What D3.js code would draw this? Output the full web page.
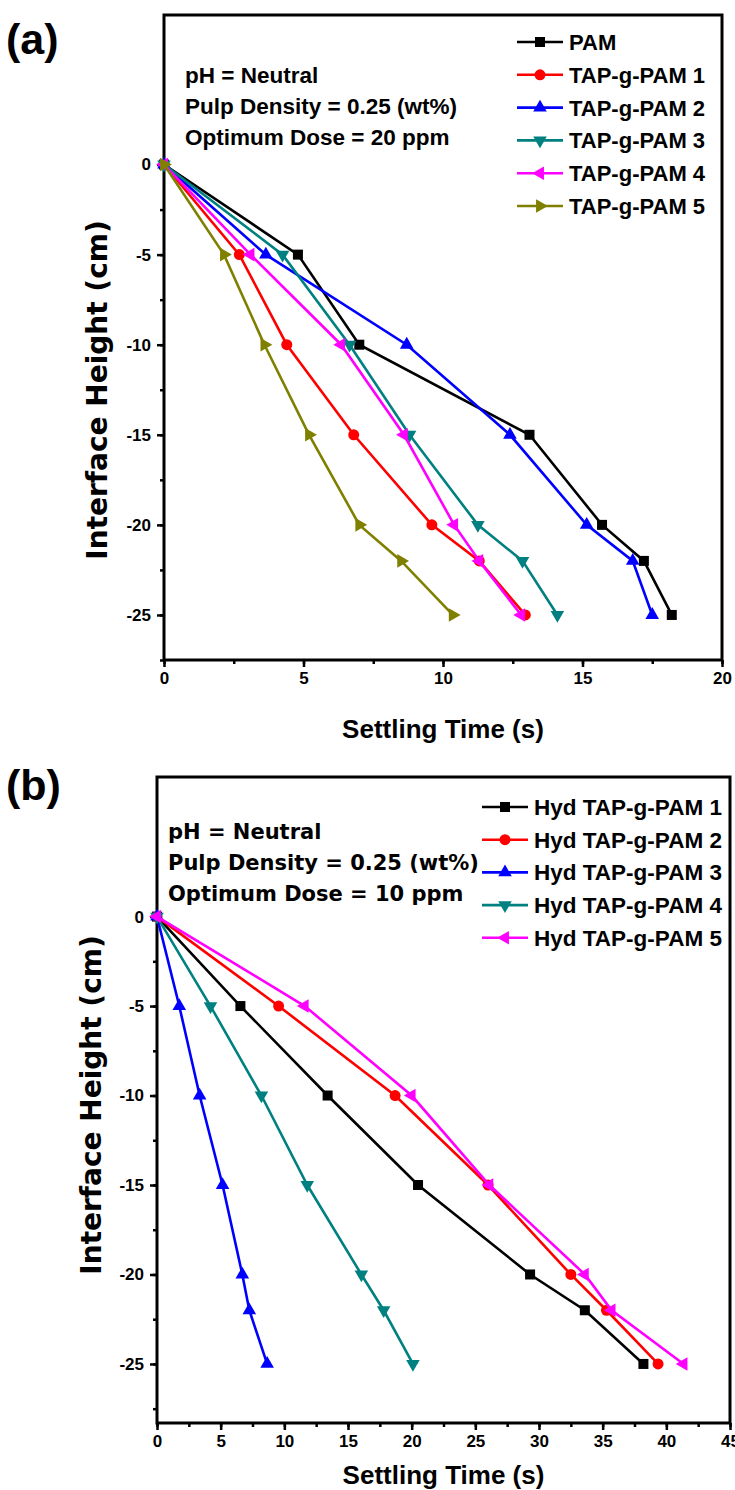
<!DOCTYPE html>
<html>
<head>
<meta charset="utf-8">
<script src="https://cdn.jsdelivr.net/npm/d3@7"></script>
<style>
  body { margin: 0; background: #fff; }
  svg text { font-family: "Liberation Sans", Arial, sans-serif; font-weight: bold; }
</style>
</head>
<body>
<svg id="chart" width="735" height="1490"></svg>
<script>
// panel (a) data
const aDepth = [0, -5, -10, -15, -20, -22, -25];
const aNames = ["PAM", "TAP-g-PAM 1", "TAP-g-PAM 2", "TAP-g-PAM 3", "TAP-g-PAM 4", "TAP-g-PAM 5"];
const aPAM  = [0, 4.8, 7.0, 13.1, 15.7, 17.2, 18.2];
const aTAP1 = [0, 2.7, 4.4, 6.8, 9.6, 11.3, 12.95];
const aTAP2 = [0, 3.65, 8.7, 12.4, 15.15, 16.8, 17.5];
const aTAP3 = [0, 4.25, 6.65, 8.8, 11.25, 12.85, 14.1];
const aTAP4 = [0, 3.1, 6.35, 8.6, 10.4, 11.3, 12.8];
const aTAP5 = [0, 2.15, 3.6, 5.2, 7.0, 8.5, 10.35];
const aNotes = ["pH = Neutral", "Pulp Density = 0.25 (wt%)", "Optimum Dose = 20 ppm"];

// panel (b) data
const bDepth = [0, -5, -10, -15, -20, -22, -25];
const bNames = ["Hyd TAP-g-PAM 1", "Hyd TAP-g-PAM 2", "Hyd TAP-g-PAM 3", "Hyd TAP-g-PAM 4", "Hyd TAP-g-PAM 5"];
const bHyd1 = [0, 6.55, 13.4, 20.5, 29.3, 33.6, 38.2];
const bHyd2 = [0, 9.55, 18.7, 26.0, 32.5, 35.3, 39.35];
const bHyd3 = [0, 1.75, 3.35, 5.15, 6.7, 7.25, 8.65];
const bHyd4 = [0, 4.2, 8.2, 11.8, 16.05, 17.8, 20.1];
const bHyd5 = [0, 11.6, 20.0, 26.1, 33.6, 35.7, 41.35];
const bNotes = ["pH = Neutral", "Pulp Density = 0.25 (wt%)", "Optimum Dose = 10 ppm"];

const yMajor = [0, -5, -10, -15, -20, -25];
const aXTicks = [0, 5, 10, 15, 20];
const bXTicks = [0, 5, 10, 15, 20, 25, 30, 35, 40, 45];

const colors = ["#000000", "#ff0000", "#0000ff", "#008080", "#ff00ff", "#808000"];
const shapes = ["square", "circle", "up", "down", "left", "right"];

const svg = d3.select("#chart");

function marker(g, shape, color, x, y) {
  if (shape === "square") {
    g.append("rect").attr("x", x - 5).attr("y", y - 5).attr("width", 10).attr("height", 10).attr("fill", color);
  } else if (shape === "circle") {
    g.append("circle").attr("cx", x).attr("cy", y).attr("r", 5.5).attr("fill", color);
  } else {
    const rot = { up: 0, down: 180, left: -90, right: 90 }[shape];
    g.append("path")
      .attr("d", d3.symbol().type(d3.symbolTriangle).size(80)())
      .attr("transform", `translate(${x},${y}) rotate(${rot})`)
      .attr("fill", color);
  }
}

function drawPanel(opt) {
  const x = d3.scaleLinear().domain(opt.xDomain).range(opt.xRange);
  const y = d3.scaleLinear().domain(opt.yDomain).range(opt.yRange);
  const g = svg.append("g");

  // axes: minor ticks then major ticks with labels
  const xMinor = d3.range(opt.xDomain[0], opt.xDomain[1] + 0.01, opt.xStep / 2);
  const yMinor = d3.range(0, opt.yDomain[1] - 0.01, -2.5);
  g.append("g")
    .attr("transform", `translate(0,${opt.yRange[1]})`)
    .call(d3.axisBottom(x).tickValues(xMinor).tickSize(4).tickFormat(""))
    .call(a => a.selectAll("line").attr("stroke-width", 2.5));
  g.append("g")
    .attr("transform", `translate(0,${opt.yRange[1]})`)
    .call(d3.axisBottom(x).tickValues(opt.xTicks).tickSize(7).tickPadding(5).tickFormat(d => d))
    .call(a => a.select(".domain").remove())
    .call(a => a.selectAll("line").attr("stroke-width", 2.5))
    .call(a => a.selectAll("text").attr("font-size", 17).attr("fill", "#000")
      .style("font-family", "'Liberation Sans', Arial, sans-serif").style("font-weight", "bold"));
  g.append("g")
    .attr("transform", `translate(${opt.xRange[0]},0)`)
    .call(d3.axisLeft(y).tickValues(yMinor).tickSize(4).tickFormat(""))
    .call(a => a.select(".domain").remove())
    .call(a => a.selectAll("line").attr("stroke-width", 2.5));
  g.append("g")
    .attr("transform", `translate(${opt.xRange[0]},0)`)
    .call(d3.axisLeft(y).tickValues(yMajor).tickSize(7).tickPadding(6).tickFormat(d => d))
    .call(a => a.select(".domain").remove())
    .call(a => a.selectAll("line").attr("stroke-width", 2.5))
    .call(a => a.selectAll("text").attr("font-size", 17).attr("fill", "#000")
      .style("font-family", "'Liberation Sans', Arial, sans-serif").style("font-weight", "bold"));

  // frame
  g.append("rect")
    .attr("x", opt.xRange[0]).attr("y", opt.yRange[0])
    .attr("width", opt.xRange[1] - opt.xRange[0])
    .attr("height", opt.yRange[1] - opt.yRange[0])
    .attr("fill", "none").attr("stroke", "#000").attr("stroke-width", 3);

  // series
  const line = d3.line().x(d => x(d[0])).y(d => y(d[1]));
  opt.series.forEach((s, i) => {
    const pts = s.map((v, j) => [v, opt.depth[j]]);
    g.append("path").datum(pts)
      .attr("d", line).attr("fill", "none")
      .attr("stroke", colors[i]).attr("stroke-width", 2.6);
    pts.forEach(p => marker(g, shapes[i], colors[i], x(p[0]), y(p[1])));
  });

  // legend
  opt.names.forEach((n, i) => {
    const ly = opt.legY + i * opt.legGap;
    g.append("line").attr("x1", opt.legX).attr("x2", opt.legX + 46)
      .attr("y1", ly).attr("y2", ly).attr("stroke", colors[i]).attr("stroke-width", 2.6);
    marker(g, shapes[i], colors[i], opt.legX + 23, ly);
    g.append("text").attr("x", opt.legX + 52).attr("y", ly + 8)
      .attr("font-size", opt.legSize).text(n);
  });

  // notes
  opt.notes.forEach((t, i) => {
    g.append("text").attr("x", opt.noteX).attr("y", opt.noteY + i * opt.noteGap)
      .attr("font-size", opt.noteSize).text(t)
      .style("font-family", opt.noteFont);
  });

  // titles
  const cx = (opt.xRange[0] + opt.xRange[1]) / 2;
  g.append("text").attr("x", cx).attr("y", opt.xTitleY)
    .attr("text-anchor", "middle").attr("font-size", 26)
    .text("Settling Time (s)");
  g.append("text")
    .attr("transform", `translate(${opt.yTitleX},${opt.yTitleY}) rotate(-90)`)
    .attr("text-anchor", "middle").attr("font-size", 28)
    .style("font-family", "'DejaVu Sans', sans-serif")
    .text("Interface Height (cm)");
  g.append("text").attr("x", 6).attr("y", opt.tagY)
    .attr("font-size", 43)
    .text(opt.tag);
}

drawPanel({
  xDomain: [0, 20], xRange: [164, 722], xStep: 5, xTicks: aXTicks,
  yDomain: [8.3, -27.5], yRange: [15, 660],
  depth: aDepth, series: [aPAM, aTAP1, aTAP2, aTAP3, aTAP4, aTAP5], names: aNames,
  legX: 517, legY: 42, legGap: 32.8, legSize: 22,
  notes: aNotes, noteX: 185, noteY: 83, noteGap: 31, noteSize: 22.5,
  noteFont: "'Liberation Sans', Arial, sans-serif",
  xTitleY: 738, yTitleX: 107, yTitleY: 390, tag: "(a)", tagY: 54
});

drawPanel({
  xDomain: [0, 45], xRange: [157, 730], xStep: 5, xTicks: bXTicks,
  yDomain: [7.8, -28.3], yRange: [777, 1423],
  depth: bDepth, series: [bHyd1, bHyd2, bHyd3, bHyd4, bHyd5], names: bNames,
  legX: 482, legY: 807, legGap: 32.7, legSize: 22.5,
  notes: bNotes, noteX: 168, noteY: 839, noteGap: 31, noteSize: 21,
  noteFont: "'DejaVu Sans', sans-serif",
  xTitleY: 1484, yTitleX: 101, yTitleY: 1105, tag: "(b)", tagY: 800
});
</script>
</body>
</html>
